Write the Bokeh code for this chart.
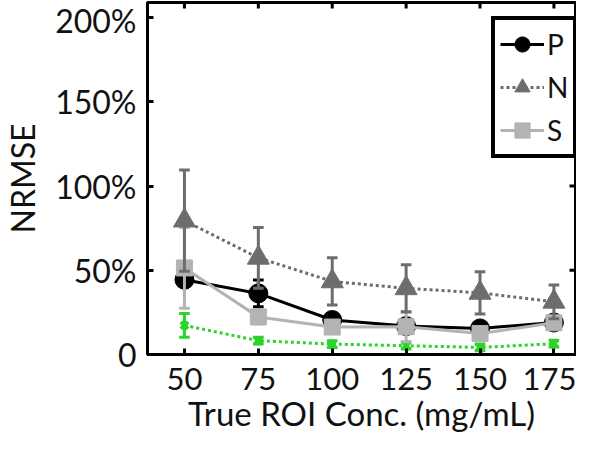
import math
from bokeh.plotting import figure
from bokeh.models import ColumnDataSource, Legend, LegendItem, FixedTicker, Range1d
from bokeh.embed import file_html
from bokeh.resources import INLINE

conc = [50, 75, 100, 125, 150, 175]
p_val = [44.4, 36.3, 20.5, 16.9, 15.5, 19.0]
p_err = [3, 8, 4, 3, 3, 3]
n_val = [79.5, 57.4, 43.4, 39.3, 36.6, 31.3]
n_err = [30, 18, 14, 14, 12.5, 10]
s_val = [51.4, 22.3, 16.3, 16.5, 12.5, 18.8]
s_err = [24, 4, 3, 9, 3, 3]
g_val = [17.3, 8.2, 6.2, 5.2, 4.2, 6.4]
g_err = [7, 2, 2, 2, 2, 2]

y_ticks = [0, 50, 100, 150, 200]
y_labels = ["0", "50%", "100%", "150%", "200%"]

X_MIN, X_MAX = 37.5, 182.3
Y_MIN, Y_MAX = 0, 209

FONT = "Lato"
C_P = "#000000"
C_N = "#6d6d6d"
C_S = "#b3b3b3"
C_G = "#2ad42a"
C_TXT = "#111111"

p = figure(width=576, height=435, output_backend="svg", toolbar_location=None,
           x_range=Range1d(X_MIN, X_MAX), y_range=Range1d(Y_MIN, Y_MAX),
           min_border_left=10, min_border_right=1, min_border_top=2, min_border_bottom=0)
p.xgrid.visible = False
p.ygrid.visible = False
p.outline_line_color = "black"
p.outline_line_width = 3
p.outline_line_alpha = 1.0

for ax in (p.xaxis[0], p.yaxis[0]):
    ax.axis_line_width = 3
    ax.axis_line_color = "black"
    ax.major_tick_in = 6
    ax.major_tick_out = 0
    ax.major_tick_line_width = 3
    ax.minor_tick_line_color = None
    ax.major_label_text_font = FONT
    ax.axis_label_text_font = FONT
    ax.axis_label_text_font_style = "normal"
    ax.major_label_text_color = C_TXT
    ax.axis_label_text_color = C_TXT

p.xaxis.ticker = FixedTicker(ticks=conc)
p.yaxis.ticker = FixedTicker(ticks=y_ticks)
p.yaxis.major_label_overrides = {t: l for t, l in zip(y_ticks, y_labels)}
p.xaxis.axis_label = "True ROI Conc. (mg/mL)"
p.yaxis.axis_label = "NRMSE"
p.xaxis.major_label_text_font_size = "31px"
p.yaxis.major_label_text_font_size = "32px"
p.xaxis.axis_label_text_font_size = "33px"
p.yaxis.axis_label_text_font_size = "32px"
p.xaxis.major_label_standoff = 13
p.yaxis.major_label_standoff = 11
p.xaxis.axis_label_standoff = 0
p.yaxis.axis_label_standoff = 10

# inward tick marks on the top and right frame edges (mirroring the axes)
p.scatter(x=conc, y=[Y_MAX] * len(conc), marker="dash", angle=math.pi / 2,
          size=12, line_color="black", line_width=3)
p.scatter(x=[X_MAX] * len(y_ticks), y=y_ticks, marker="dash",
          size=12, line_color="black", line_width=3)

CAP = 1.8

def add_series(vals, errs, color, dash, marker, size, lw=3):
    src = ColumnDataSource(dict(
        x=conc, y=vals,
        lo=[v - e for v, e in zip(vals, errs)],
        hi=[v + e for v, e in zip(vals, errs)],
        xl=[c - CAP for c in conc], xr=[c + CAP for c in conc]))
    p.segment(x0="x", y0="lo", x1="x", y1="hi", source=src, line_color=color, line_width=3)
    p.segment(x0="xl", y0="hi", x1="xr", y1="hi", source=src, line_color=color, line_width=3)
    p.segment(x0="xl", y0="lo", x1="xr", y1="lo", source=src, line_color=color, line_width=3)
    ln = p.line("x", "y", source=src, line_color=color, line_width=lw, line_dash=dash)
    mk = p.scatter("x", "y", source=src, marker=marker, size=size,
                   fill_color=color, line_color=color, line_width=1)
    return ln, mk

g_ln, g_mk = add_series(g_val, g_err, C_G, "3 3", "x", 10)
g_mk.glyph.line_width = 4
p_ln, p_mk = add_series(p_val, p_err, C_P, "solid", "circle", 19)
s_ln, s_mk = add_series(s_val, s_err, C_S, "solid", "square", 16)
n_ln, n_mk = add_series(n_val, n_err, C_N, "3 3", "triangle", 22)

legend = Legend(items=[
    LegendItem(label="P", renderers=[p_ln, p_mk]),
    LegendItem(label="N", renderers=[n_ln, n_mk]),
    LegendItem(label="S", renderers=[s_ln, s_mk]),
], location=(344, 196))
legend.border_line_color = "black"
legend.border_line_width = 4
legend.border_line_alpha = 1.0
legend.background_fill_color = "white"
legend.background_fill_alpha = 1.0
legend.label_text_font = FONT
legend.label_text_font_size = "28px"
legend.label_text_color = C_TXT
legend.glyph_width = 44
legend.glyph_height = 38
legend.label_height = 38
legend.label_width = 10
legend.spacing = 5
legend.padding = 5
legend.margin = 0
legend.label_standoff = 3
p.add_layout(legend, "center")

open("out.html", "w").write(file_html(p, INLINE))
